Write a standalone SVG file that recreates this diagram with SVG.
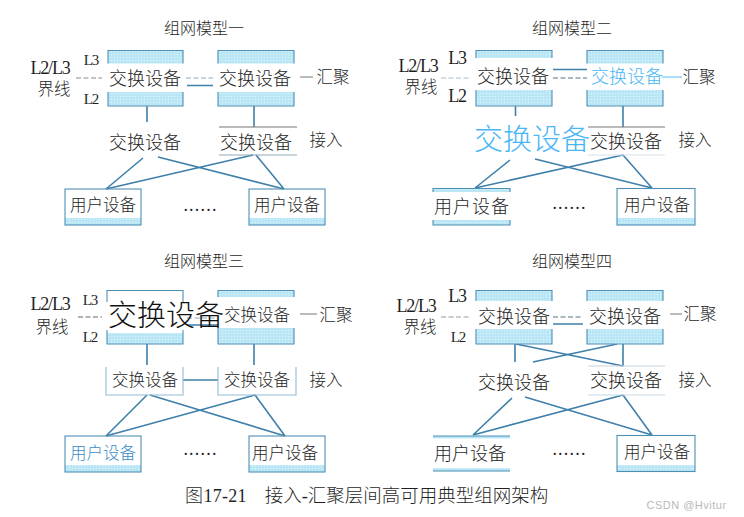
<svg xmlns="http://www.w3.org/2000/svg" width="744" height="517" viewBox="0 0 744 517">
<style>
text{font-family:"Liberation Serif","Noto Sans CJK SC",serif;fill:#1f1f1f;text-anchor:middle;font-weight:300}
.t{font-size:16px}
.s{font-size:18px}
.u{font-size:16.5px}
.l{font-size:18px;letter-spacing:-1.2px}
.m{font-size:16.5px}
.big{font-size:29px}
.blue{fill:#4ab6f4}
.band{fill:url(#dots);stroke:none}
.edge{fill:none;stroke:#4f8fb5;stroke-width:1.1}
.lnk{fill:none;stroke:#3f80ab;stroke-width:1.6}
.dash{fill:none;stroke:#8aa9bd;stroke-width:1;stroke-dasharray:5 2.5}
.thin{fill:none;stroke:#777;stroke-width:1}
.w{fill:none;stroke:#8fa9b8;stroke-width:1}
</style>
<defs>
<pattern id="dots" width="3" height="3" patternUnits="userSpaceOnUse"><rect width="3" height="3" fill="#b8e6f5"/><rect width="1.2" height="1.2" fill="#def3fa"/></pattern>
</defs>
<rect width="744" height="517" fill="#ffffff"/>

<g id="connectors">
<path class="lnk" d="M147 106V122M254 106V127M187 85.500H213M143 158L106 189M158 157L284 189M253 155L106 189M256 155L284 189"/>
<path class="dash" d="M186 78H213"/><path class="dash" d="M76 78H102" style="stroke:#888"/>
<path class="thin" d="M300 77H313"/>
<path class="lnk" d="M515.500 106V116M623 106V127M553 69.500H587M510 160L475 188M535 159L652 188M623 155L475 188M623 155L652 188"/>
<path class="dash" d="M553 78H587" style="stroke:#56707f"/><path class="dash" d="M441 78H470" style="stroke:#a8bccb"/>
<path d="M662 77H682" fill="none" stroke="#8ed3f5" stroke-width="1.500"/>
<path class="lnk" d="M147 344V365M254 344V365M183 380H218M187 325H218M147 395L106 436M150 395L285 436M255 395L106 436M255 395L285 436"/>
<path class="dash" d="M187 318H218"/><path class="dash" d="M78 317H102" style="stroke:#666"/>
<path class="thin" d="M300 314H317"/>
<path class="lnk" d="M515 344V362M623 344V366M516 344L623 366M617 344L533 362M553 324H583M512 398L473 435M525 397L652 435M623 395L473 435M623 395L652 435"/>
<path class="dash" d="M553 317H583" style="stroke:#56707f"/><path class="dash" d="M441 317H470" style="stroke:#999"/>
<path class="thin" d="M670 314H682"/>
</g>

<g id="panel-1">
<text class="t" x="204" y="34">组网模型一</text>
<text class="l" x="50" y="74">L2/L3</text><text class="m" x="54" y="95">界线</text>
<text class="l" x="91" y="65" style="font-size:15px">L3</text><text class="l" x="91" y="104" style="font-size:15px">L2</text>
<text class="m" x="333" y="83">汇聚</text><text class="m" x="326" y="146">接入</text>
<text class="s" x="200.500" y="211" letter-spacing="1.200">......</text>
</g>
<g id="n1-core-a"><rect class="band" x="108" y="50.500" width="75" height="13"/><rect class="band" x="108" y="92" width="75" height="14"/><path class="edge" d="M108 63.500V50.500H183V63.500M108 92V106H183V92"/><text class="s" x="145" y="85">交换设备</text></g>
<g id="n1-core-b"><rect class="band" x="218" y="50.500" width="76" height="13"/><rect class="band" x="218" y="92" width="76" height="14"/><path class="edge" d="M218 63.500V50.500H294V63.500M218 92V106H294V92"/><text class="s" x="255" y="85">交换设备</text></g>
<g id="n1-access-a"><text class="s" x="145" y="149">交换设备</text></g>
<g id="n1-access-b"><path class="thin" d="M219 127H297"/><path class="w" d="M219 155H297"/><text class="s" x="256" y="149">交换设备</text></g>
<g id="n1-user-a"><rect class="band" x="65" y="218" width="76" height="7"/><rect class="edge" x="65" y="189" width="76" height="36"/><text class="u" x="103" y="211">用户设备</text></g>
<g id="n1-user-b"><rect class="band" x="249" y="218" width="76" height="7"/><rect class="edge" x="249" y="189" width="76" height="36"/><text class="u" x="287" y="211">用户设备</text></g>

<g id="panel-2">
<text class="t" x="572" y="34">组网模型二</text>
<text class="l" x="418" y="72">L2/L3</text><text class="m" x="421" y="93">界线</text>
<text class="l" x="457" y="64">L3</text><text class="l" x="457" y="102">L2</text>
<text class="m" x="699" y="83">汇聚</text><text class="m" x="695" y="146">接入</text>
<text class="s" x="569.500" y="209" letter-spacing="1.200">......</text>
</g>
<g id="n2-core-a"><rect class="band" x="476" y="50.500" width="76" height="7.500"/><rect class="band" x="476" y="90" width="76" height="16"/><path class="edge" d="M476 58V50.500H552V58M476 90V106H552V90"/><text class="s" x="513" y="83">交换设备</text></g>
<g id="n2-core-b"><rect class="band" x="587" y="50.500" width="76" height="13"/><rect class="band" x="587" y="90" width="76" height="16"/><path class="edge" d="M587 63.500V50.500H663V63.500M587 90V106H663V90"/><text class="s blue" x="627" y="83">交换设备</text></g>
<g id="n2-access-a"><text class="big blue" x="532" y="150">交换设备</text></g>
<g id="n2-access-b"><path class="thin" d="M588 127H665"/><path class="w" d="M588 155H665" style="stroke:#d5e2ea"/><text class="s" x="626" y="148">交换设备</text></g>
<g id="n2-user-a"><rect class="band" x="433" y="188.500" width="77" height="3.500"/><rect class="band" x="433" y="220" width="77" height="5"/><path class="edge" d="M433 192V188.500H510V192M433 220V225H510V220"/><text class="s" x="472" y="213" letter-spacing="1">用户设备</text></g>
<g id="n2-user-b"><rect class="band" x="617" y="218" width="78" height="7"/><rect class="edge" x="617" y="188.500" width="78" height="36.500"/><text class="u" x="657" y="211">用户设备</text></g>

<g id="panel-3">
<text class="t" x="204" y="267">组网模型三</text>
<text class="l" x="50" y="310">L2/L3</text><text class="m" x="52" y="333">界线</text>
<text class="l" x="90" y="305" style="font-size:15px">L3</text><text class="l" x="90" y="342" style="font-size:15px">L2</text>
<text class="m" x="336" y="321">汇聚</text><text class="m" x="326" y="386">接入</text>
<text class="s" x="200.500" y="455" letter-spacing="1.200">......</text>
</g>
<g id="n3-core-b"><rect class="band" x="218" y="290.500" width="76" height="6.500"/><rect class="band" x="218" y="328" width="76" height="16"/><path class="edge" d="M218 297V290.500H294V297M218 328V344H294V328"/><text class="m" x="257" y="321">交换设备</text></g>
<g id="n3-core-a"><rect class="band" x="107" y="333" width="76" height="11"/><path class="edge" d="M107 302V290.500H183V302M107 330V344H183V330"/><text class="big" x="166" y="326" style="fill:#111">交换设备</text></g>
<g id="n3-access-a"><path class="edge" d="M106 367V395H183V367" style="stroke:#8fbdd6"/><text class="u" x="145" y="386">交换设备</text></g>
<g id="n3-access-b"><path class="edge" d="M218 367V395H296V367" style="stroke:#8fbdd6"/><text class="u" x="257" y="386">交换设备</text></g>
<g id="n3-user-a"><rect class="band" x="65" y="465" width="76" height="7"/><rect class="edge" x="65" y="436" width="76" height="36"/><text class="u" x="103" y="459" style="fill:#3a8cc4">用户设备</text></g>
<g id="n3-user-b"><rect class="band" x="249" y="465" width="76" height="7"/><rect class="edge" x="249" y="436" width="76" height="36"/><text class="u" x="285" y="459">用户设备</text></g>

<g id="panel-4">
<text class="t" x="572" y="267">组网模型四</text>
<text class="l" x="416" y="312">L2/L3</text><text class="m" x="420" y="333">界线</text>
<text class="l" x="457" y="302">L3</text><text class="l" x="458" y="342" style="font-size:15px">L2</text>
<text class="m" x="700" y="320">汇聚</text><text class="m" x="695" y="386">接入</text>
<text class="s" x="569.500" y="455" letter-spacing="1.200">......</text>
</g>
<g id="n4-core-a"><rect class="band" x="476" y="290.500" width="76" height="10.500"/><rect class="band" x="476" y="329" width="76" height="15"/><path class="edge" d="M476 301V290.500H552V301M476 329V344H552V329"/><text class="s" x="514" y="323">交换设备</text></g>
<g id="n4-core-b"><rect class="band" x="587" y="290.500" width="76" height="10.500"/><rect class="band" x="587" y="329" width="76" height="15"/><path class="edge" d="M587 301V290.500H663V301M587 329V344H663V329"/><text class="s" x="625" y="323">交换设备</text></g>
<g id="n4-access-a"><text class="s" x="514" y="389">交换设备</text></g>
<g id="n4-access-b"><path class="w" d="M588 366H665" style="stroke:#c5d3dc"/><path class="w" d="M588 395H665" style="stroke:#c5d8e4"/><text class="s" x="626" y="387">交换设备</text></g>
<g id="n4-user-a"><rect class="band" x="433" y="436" width="77" height="2.500"/><rect class="band" x="433" y="468" width="77" height="3"/><path class="edge" d="M433 436H510M433 471H510"/><text class="s" x="470" y="460">用户设备</text></g>
<g id="n4-user-b"><rect class="band" x="617" y="465" width="78" height="6.500"/><rect class="edge" x="617" y="435.500" width="78" height="36"/><text class="u" x="657" y="458">用户设备</text></g>

<g id="caption">
<text x="216" y="502" style="font-size:18px" letter-spacing="0.300">图17-21</text>
<text x="406.500" y="502" style="font-size:18.500px">接入-汇聚层间高可用典型组网架构</text>
<text x="686.500" y="509" style="font-size:11px;fill:#b9b9b9;font-family:'Liberation Sans','Noto Sans CJK SC',sans-serif" letter-spacing="0.500">CSDN @Hvitur</text>
</g>
</svg>
